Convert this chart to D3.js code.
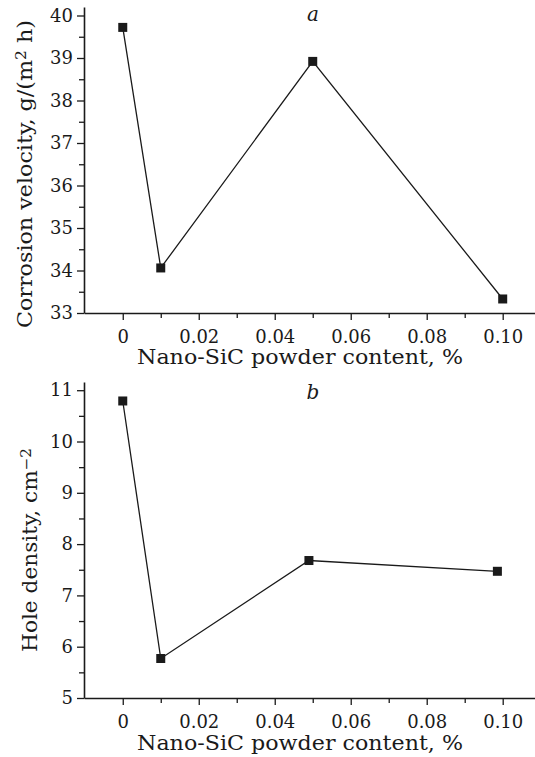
<!DOCTYPE html>
<html><head><meta charset="utf-8">
<script src="https://cdn.jsdelivr.net/npm/d3@7"></script>
<style>
body{margin:0;background:#fff;}
svg{display:block;}
text{font-family:"DejaVu Serif",serif;fill:#1a1a1a;}
</style></head><body>
<svg id="c" width="535" height="757"></svg>
<script>
// Data
const contentA = [0, 0.01, 0.05, 0.10];
const corrosion = [39.72, 34.06, 38.92, 33.33];
const contentB = [0, 0.01, 0.049, 0.0986];
const holeDensity = [10.79, 5.77, 7.68, 7.47];
const xTicks = [0, 0.02, 0.04, 0.06, 0.08, 0.10];
const xTickLabels = ["0", "0.02", "0.04", "0.06", "0.08", "0.10"];
const xMinor = [0.01, 0.03, 0.05, 0.07, 0.09];
const yTicksA = [33, 34, 35, 36, 37, 38, 39, 40];
const yMinorA = [33.5, 34.5, 35.5, 36.5, 37.5, 38.5, 39.5];
const yTicksB = [5, 6, 7, 8, 9, 10, 11];
const yMinorB = [5.5, 6.5, 7.5, 8.5, 9.5, 10.5];

const svg = d3.select("#c");
const ink = "#1a1a1a";

function panel(cfg){
  const g = svg.append("g");
  const x = d3.scaleLinear().domain([-0.0102, 0.1085]).range([84, 535]);
  const y = d3.scaleLinear().domain(cfg.ydom).range([cfg.bottom, cfg.top]);

  // x axis
  const xa = g.append("g").attr("transform", `translate(0,${cfg.bottom})`)
    .call(d3.axisBottom(x).tickValues(xTicks).tickFormat((d,i)=>xTickLabels[i]).tickSize(7).tickSizeOuter(0));
  xa.select(".domain").attr("stroke", ink).attr("stroke-width", 1.6);
  xa.selectAll(".tick line").attr("stroke", ink).attr("stroke-width", 1.3);
  xa.selectAll(".tick text").attr("font-size", 18).attr("font-family","DejaVu Serif").attr("fill", ink).attr("dy", null).attr("y", 30);
  const xm = g.append("g").attr("transform", `translate(0,${cfg.bottom})`)
    .call(d3.axisBottom(x).tickValues(xMinor).tickFormat("").tickSize(5).tickSizeOuter(0));
  xm.select(".domain").remove();
  xm.selectAll(".tick line").attr("stroke", ink).attr("stroke-width", 1.3);

  // y axis
  const ya = g.append("g").attr("transform", `translate(84,0)`)
    .call(d3.axisLeft(y).tickValues(cfg.yt).tickFormat(d3.format("d")).tickSize(7).tickSizeOuter(0));
  ya.select(".domain").attr("stroke", ink).attr("stroke-width", 1.6);
  ya.selectAll(".tick line").attr("stroke", ink).attr("stroke-width", 1.3);
  ya.selectAll(".tick text").attr("font-size", 18).attr("font-family","DejaVu Serif").attr("fill", ink).attr("x", -11);
  const ym = g.append("g").attr("transform", `translate(84,0)`)
    .call(d3.axisLeft(y).tickValues(cfg.ym).tickFormat("").tickSize(5).tickSizeOuter(0));
  ym.select(".domain").remove();
  ym.selectAll(".tick line").attr("stroke", ink).attr("stroke-width", 1.3);

  const pts = cfg.xs.map((v,i)=>[v, cfg.ys[i]]);
  g.append("path").datum(pts)
    .attr("d", d3.line().x(d=>x(d[0])).y(d=>y(d[1])))
    .attr("fill","none").attr("stroke", ink).attr("stroke-width", 1.3);
  g.selectAll("rect.m").data(pts).join("rect").attr("class","m")
    .attr("x", d=>x(d[0])-4.5).attr("y", d=>y(d[1])-4.5)
    .attr("width", 9).attr("height", 9).attr("fill", ink);

  // panel letter
  g.append("text").attr("x", 313).attr("y", cfg.letterY).attr("text-anchor","middle")
    .attr("font-size", 20).attr("font-style","italic").text(cfg.letter);

  // x title
  g.append("text").attr("x", 137).attr("y", cfg.bottom + cfg.xtOff)
    .attr("font-size", 20).attr("textLength", 326).attr("lengthAdjust","spacingAndGlyphs")
    .text("Nano-SiC powder content, %");

  // y title
  const t = g.append("text").attr("transform", `translate(${cfg.ytx},${cfg.ytStart}) rotate(-90)`)
    .attr("font-size", 20).attr("textLength", cfg.ytLen).attr("lengthAdjust","spacingAndGlyphs");
  t.append("tspan").text(cfg.ylab[0]);
  t.append("tspan").attr("font-size", 14).attr("baseline-shift", "45%").text(cfg.ylab[1]);
  if (cfg.ylab[2]) t.append("tspan").text(cfg.ylab[2]);
}

panel({ydom:[33, 40.2], top:7, bottom:313, xs:contentA, ys:corrosion, yt:yTicksA, ym:yMinorA,
  letter:"a", letterY:21, xtOff:51, ytx:32, ytStart:328, ytLen:308, ylab:["Corrosion velocity, g/(m","2"," h)"]});
panel({ydom:[5, 11.16], top:382, bottom:698, xs:contentB, ys:holeDensity, yt:yTicksB, ym:yMinorB,
  letter:"b", letterY:399, xtOff:52, ytx:37, ytStart:652, ytLen:204, ylab:["Hole density, cm","\u22122",""]});
</script>
</body></html>
